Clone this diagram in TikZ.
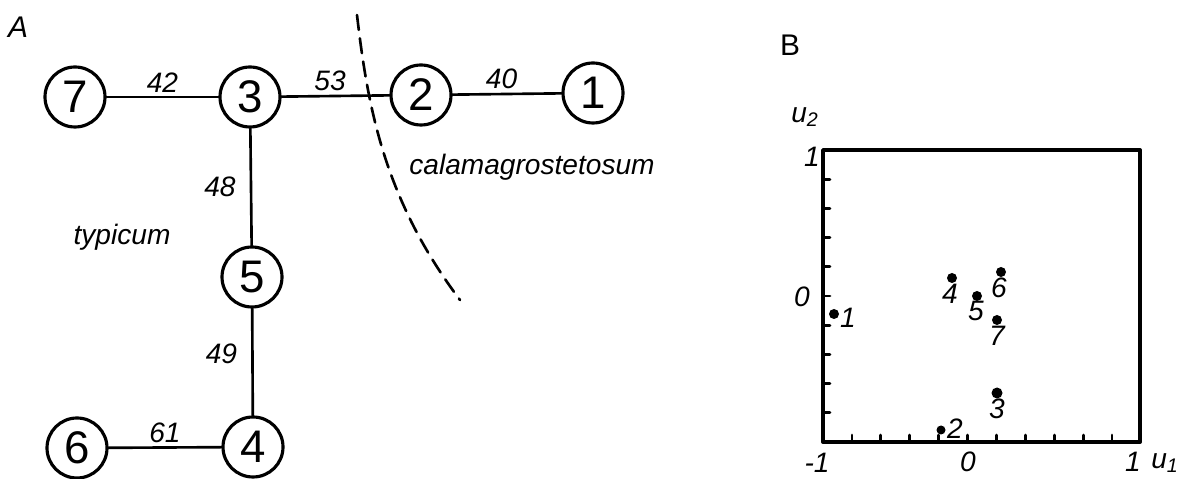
\documentclass[tikz,border=0pt]{standalone}
\usepackage{fontspec}
\setmainfont{Liberation Sans}
\usetikzlibrary{arrows}

\tikzset{
  vert/.style={circle,draw,line width=1.8pt,minimum size=1.2cm,inner sep=0pt,font=\fontsize{26}{26}\selectfont},
  wt/.style={font=\fontsize{16}{16}\selectfont\itshape,inner sep=2pt},
  grp/.style={font=\fontsize{16}{16}\selectfont\itshape},
  tag/.style={font=\fontsize{16}{16}\selectfont\itshape,inner sep=1pt}
}

\begin{document}
\begin{tikzpicture}[line cap=round,line join=round,x=0.02cm,y=-0.02cm]
		\useasboundingbox (0,0) rectangle (1198,479);
		% A: graph of the releves
		\draw (18,27) node[font=\fontsize{17}{17}\selectfont\itshape] (labA) {A};
		\node[vert] (n7) at (75,97) {7};
		\node[vert] (n3) at (250,97) {3};
		\node[vert] (n2) at (421,95) {2};
		\node[vert] (n1) at (593,93) {1};
		\node[vert] (n5) at (252,277) {5};
		\node[vert] (n4) at (253,447) {4};
		\node[vert] (n6) at (77,448) {6};
		\draw[line width=1.5pt] (n7) -- node[wt,above] (w73) {42} (n3);
		\draw[line width=1.5pt] (n3) -- node[wt,above,pos=0.45] (w32) {53} (n2);
		\draw[line width=1.5pt] (n2) -- node[wt,above,pos=0.45] (w21) {40} (n1);
		\draw[line width=1.5pt] (n3) -- node[wt,left=6pt] (w35) {48} (n5);
		\draw[line width=1.5pt] (n5) -- node[wt,left=6pt,pos=0.42] (w54) {49} (n4);
		\draw[line width=1.5pt] (n6) -- node[wt,above] (w64) {61} (n4);
		\draw (122,237) node[grp] (typ) {typicum};
		\draw (532,167) node[grp] (cal) {calamagrostetosum};
		% boundary between the two groups
		\coordinate (b0) at (357,15);
		\coordinate (b1) at (460,300);
		\draw[line width=1.5pt,dash pattern=on 0.3cm off 0.17cm] (b0) .. controls (368,110) and (385,200) .. (b1);
		% B: ordination
		\draw (790,45) node[font=\fontsize{17}{17}\selectfont] (labB) {B};
		\draw[line width=2.2pt] (823,150) rectangle (1140,442);
		\foreach \i in {1,...,9}
			\draw[line width=1.6pt] (823,150+29.2*\i) -- ++(7,0);
		\foreach \i in {1,...,10}
			\draw[line width=1.6pt] (823+28.9*\i,442) -- ++(0,-7);
		\draw (805,117) node[tag] (ax2) {u\textsubscript{2}};
		\draw (812,157) node[tag] (y1) {1};
		\draw (802,297) node[tag] (y0) {0};
		\draw (817,463) node[tag] (xm1) {-1};
		\draw (968,462) node[tag] (x0) {0};
		\draw (1133,462) node[tag] (x1) {1};
		\draw (1165,463) node[tag] (ax1) {u\textsubscript{1}};
		\begin{scriptsize}
			\fill [color=black] (834,314) circle (5);
			\draw (848,318) node[tag] (p1) {1};
			\fill [color=black] (941,430) circle (4.5);
			\draw (955,429) node[tag] (p2) {2};
			\fill [color=black] (997,393) circle (5.5);
			\draw (997,409) node[tag] (p3) {3};
			\fill [color=black] (952,278) circle (5);
			\draw (950,294) node[tag] (p4) {4};
			\fill [color=black] (977,296) circle (5);
			\draw (976,311) node[tag] (p5) {5};
			\fill [color=black] (1001,272) circle (5);
			\draw (999,288) node[tag] (p6) {6};
			\fill [color=black] (997,320) circle (5);
			\draw (997,336) node[tag] (p7) {7};
		\end{scriptsize}
	\end{tikzpicture}
\end{document}
